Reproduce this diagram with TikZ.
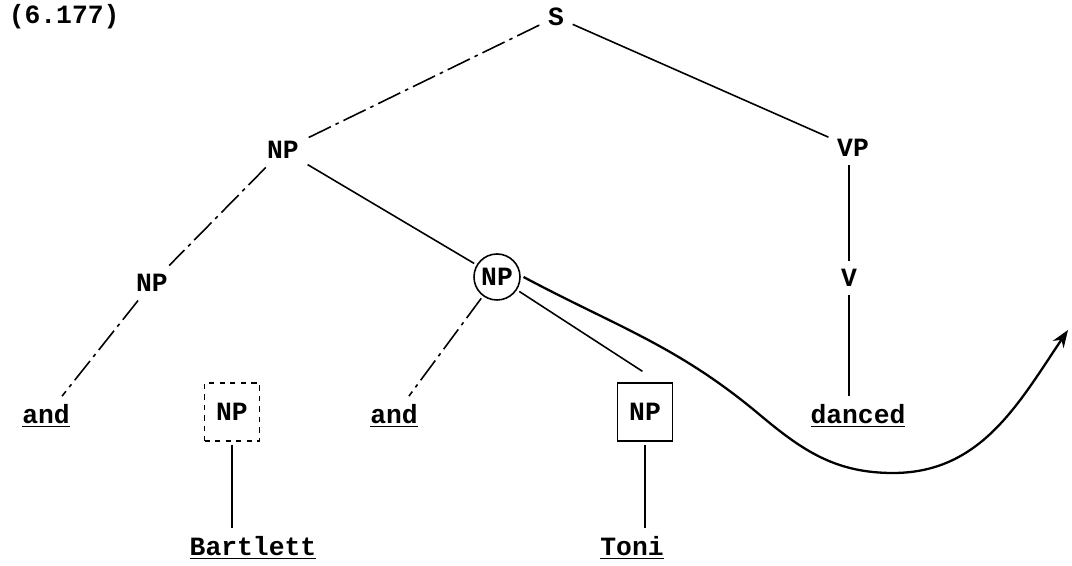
\documentclass[tikz,border=0pt]{standalone}
\usepackage{fontspec}
\setmainfont{Liberation Mono}
\usepackage{tikz}
\usetikzlibrary{arrows.meta}

\begin{document}
\begin{tikzpicture}[
    txt/.style={font=\bfseries\fontsize{15}{18}\selectfont, inner sep=1pt, outer sep=4pt},
    edge/.style={line width=0.9pt},
    faded/.style={edge, dash pattern=on 14pt off 3pt on 2pt off 3pt},
    npbox/.style={txt, draw, line width=0.9pt, minimum width=1.1cm, minimum height=1.16cm, outer sep=2pt},
    npring/.style={txt, draw, circle, line width=0.9pt, minimum size=0.92cm, inner sep=0pt, outer sep=2pt}
  ]
  \useasboundingbox (0, 0) rectangle (21.44, 11.32);

  % Label
  \node[txt, anchor=west] (lab) at (0, 10.98) {(6.177)};

  % Upper tree
  \node[txt] (s) at (11.12, 10.98) {S};
  \node[txt] (np) at (5.66, 8.32) {NP};
  \node[txt] (vp) at (17.06, 8.36) {VP};
  \node[txt] (npl) at (3.04, 5.66) {NP};
  \node[npring] (npc) at (9.94, 5.78) {NP};
  \node[txt] (v) at (16.98, 5.76) {V};

  % Lower row
  \node[txt, anchor=base] (andl) at (0.92, 2.84) {\underline{and}};
  \node[npbox, dashed] (npb) at (4.64, 3.08) {NP};
  \node[txt, anchor=base] (andr) at (7.88, 2.84) {\underline{and}};
  \node[npbox] (npt) at (12.9, 3.08) {NP};
  \node[txt, anchor=base] (danced) at (17.16, 2.84) {\underline{danced}};
  \node[txt, anchor=base] (bart) at (5.06, 0.2) {\underline{Bartlett}};
  \node[txt, anchor=base] (toni) at (12.64, 0.2) {\underline{Toni}};

  % Branches
  \draw[faded] (s) -- (np);
  \draw[edge] (s) -- (vp);
  \draw[faded] (np) -- (npl);
  \draw[edge] (np) -- (npc);
  \draw[edge] (v.north |- vp.south) -- (v.north);
  \draw[faded] (npl) -- (andl);
  \draw[faded] (npc) -- (andr);
  \draw[edge, shorten >=0.3cm] (npc) -- ([xshift=0.2cm]npt.north);
  \draw[edge] (v.south) -- (v.south |- danced.north);
  \draw[edge] (npb.south) -- (npb.south |- bart.north);
  \draw[edge] (npt.south) -- (npt.south |- toni.north);

  % Movement arrow
  \coordinate (tip) at (21.36, 4.72);
  \draw[line width=1.3pt, -{Stealth[length=3.5mm, width=2.6mm]}] (npc.east) to[out=-28, in=140] (15.2, 3.02) to[out=-40, in=180] (17.86, 1.86) to[out=0, in=-124] (tip);
\end{tikzpicture}
\end{document}
